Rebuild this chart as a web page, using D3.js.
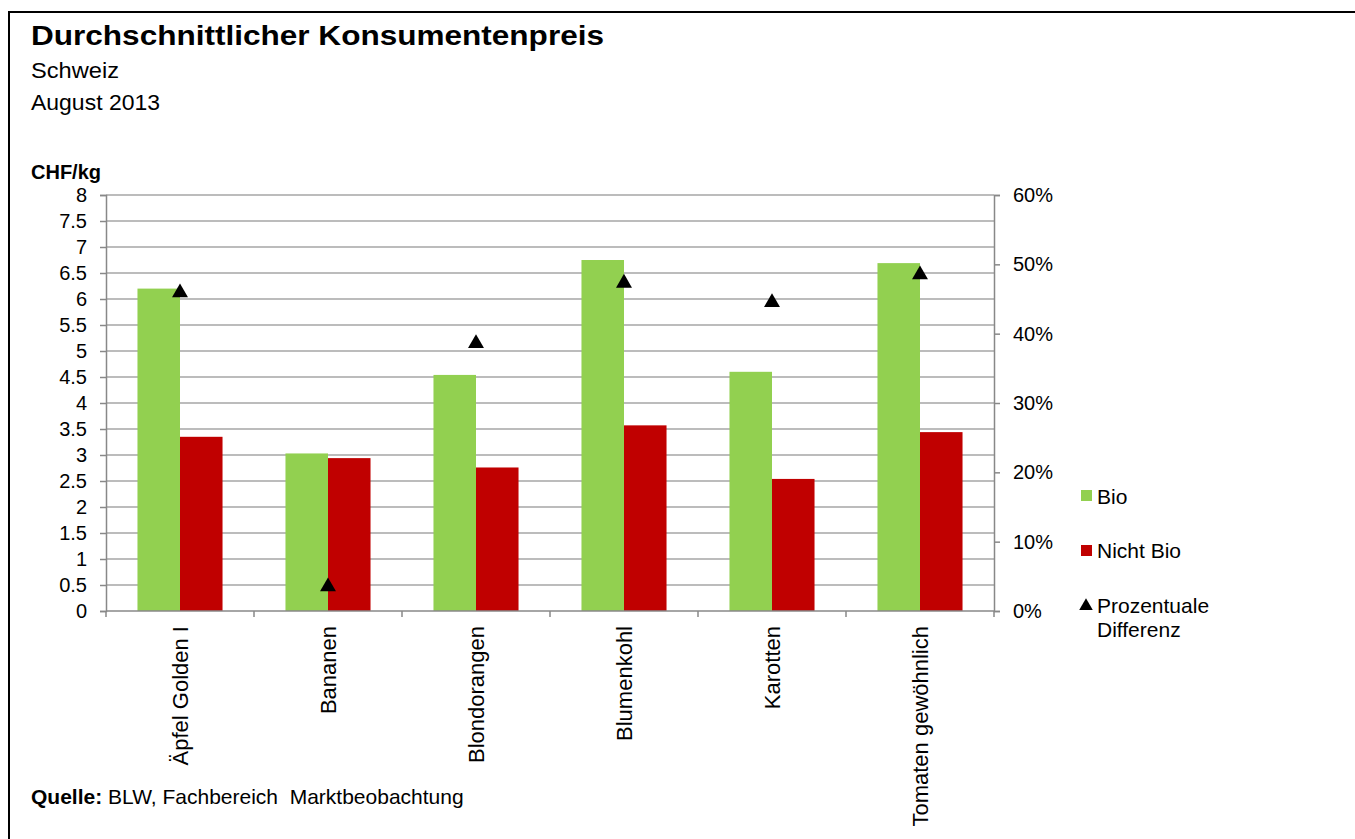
<!DOCTYPE html>
<html>
<head>
<meta charset="utf-8">
<script src="https://cdn.jsdelivr.net/npm/d3@7"></script>
<style>
  body { margin: 0; background: #fff; }
  svg { font-family: "Liberation Sans", Arial, sans-serif; }
</style>
</head>
<body>
<svg width="1355" height="839"></svg>
<script>
var categories = ["Äpfel Golden I", "Bananen", "Blondorangen", "Blumenkohl", "Karotten", "Tomaten gewöhnlich"];
var bio = [6.2, 3.03, 4.54, 6.75, 4.6, 6.69];
var nichtBio = [3.35, 2.94, 2.76, 3.57, 2.54, 3.44];
var differenz = [0.459, 0.035, 0.386, 0.473, 0.445, 0.485];
var leftTicks = [0, 0.5, 1, 1.5, 2, 2.5, 3, 3.5, 4, 4.5, 5, 5.5, 6, 6.5, 7, 7.5, 8];
var rightTicks = [0, 0.1, 0.2, 0.3, 0.4, 0.5, 0.6];

var svg = d3.select("svg");

// outer frame (runs off the right and bottom edge)
svg.append("rect")
    .attr("x", 9).attr("y", 12)
    .attr("width", 1380).attr("height", 860)
    .attr("fill", "none")
    .attr("stroke", "#000")
    .attr("stroke-width", 2);

svg.append("text").attr("x", 31).attr("y", 45)
    .style("font-size", "28px").style("font-weight", "bold")
    .attr("textLength", 573).attr("lengthAdjust", "spacingAndGlyphs")
    .text("Durchschnittlicher Konsumentenpreis");
svg.append("text").attr("x", 31).attr("y", 78)
    .style("font-size", "22px")
    .attr("textLength", 88).attr("lengthAdjust", "spacingAndGlyphs")
    .text("Schweiz");
svg.append("text").attr("x", 31).attr("y", 110)
    .style("font-size", "22px")
    .attr("textLength", 129).attr("lengthAdjust", "spacingAndGlyphs")
    .text("August 2013");
svg.append("text").attr("x", 31).attr("y", 179)
    .style("font-size", "20px").style("font-weight", "bold").text("CHF/kg");

var plotLeft = 106, plotRight = 994, plotTop = 195, plotBottom = 611;

var x = d3.scaleBand()
    .domain(categories)
    .range([plotLeft, plotRight]);

var xs = d3.scaleBand()
    .domain(["bio", "nicht"])
    .range([0, x.bandwidth()])
    .paddingOuter(0.74)
    .paddingInner(0);

var y = d3.scaleLinear().domain([0, 8]).range([plotBottom, plotTop]);
var y2 = d3.scaleLinear().domain([0, 0.6]).range([plotBottom, plotTop]);

// grid lines
svg.append("g")
    .selectAll("line")
    .data(leftTicks.slice(1))
    .enter()
    .append("line")
    .attr("x1", plotLeft).attr("x2", plotRight)
    .attr("y1", function(d) { return y(d); })
    .attr("y2", function(d) { return y(d); })
    .attr("stroke", "#a6a6a6")
    .attr("stroke-width", 1.5);

// left axis
var yAxis = svg.append("g")
    .attr("transform", "translate(" + plotLeft + ",0)")
    .call(d3.axisLeft(y).tickValues(leftTicks).tickSize(6).tickPadding(13)
        .tickFormat(function(d) { return String(d); }));
yAxis.select(".domain").attr("stroke", "#888").attr("stroke-width", 1.5);
yAxis.selectAll(".tick line").attr("stroke", "#888").attr("stroke-width", 1.5);
yAxis.selectAll("text").style("font-size", "20px").attr("fill", "#000")
    .attr("font-family", "Liberation Sans, Arial, sans-serif");

// right axis
var y2Axis = svg.append("g")
    .attr("transform", "translate(" + plotRight + ",0)")
    .call(d3.axisRight(y2).tickValues(rightTicks).tickSize(6).tickPadding(13)
        .tickFormat(d3.format(".0%")));
y2Axis.select(".domain").attr("stroke", "#888").attr("stroke-width", 1.5);
y2Axis.selectAll(".tick line").attr("stroke", "#888").attr("stroke-width", 1.5);
y2Axis.selectAll("text").style("font-size", "20px").attr("fill", "#000")
    .attr("font-family", "Liberation Sans, Arial, sans-serif");

// bars
var groups = svg.append("g")
    .selectAll("g")
    .data(categories)
    .enter()
    .append("g")
    .attr("transform", function(d) { return "translate(" + x(d) + ",0)"; });

groups.append("rect")
    .attr("x", xs("bio"))
    .attr("width", xs.bandwidth())
    .attr("y", function(d, i) { return y(bio[i]); })
    .attr("height", function(d, i) { return y(0) - y(bio[i]); })
    .attr("fill", "#92d050");

groups.append("rect")
    .attr("x", xs("nicht"))
    .attr("width", xs.bandwidth())
    .attr("y", function(d, i) { return y(nichtBio[i]); })
    .attr("height", function(d, i) { return y(0) - y(nichtBio[i]); })
    .attr("fill", "#c00000");

// bottom axis
var xAxis = svg.append("g")
    .attr("transform", "translate(0," + plotBottom + ")");
xAxis.append("line")
    .attr("x1", plotLeft).attr("x2", plotRight)
    .attr("stroke", "#888").attr("stroke-width", 1.5);
xAxis.selectAll(".tk")
    .data(categories.concat(["end"]))
    .enter()
    .append("line")
    .attr("class", "tk")
    .attr("x1", function(d, i) { return plotLeft + i * x.step(); })
    .attr("x2", function(d, i) { return plotLeft + i * x.step(); })
    .attr("y1", 0).attr("y2", 6)
    .attr("stroke", "#888").attr("stroke-width", 1.5);

svg.append("g")
    .selectAll("text")
    .data(categories)
    .enter()
    .append("text")
    .attr("transform", function(d) {
        return "translate(" + (x(d) + x.bandwidth() / 2 + 8) + "," + (plotBottom + 15) + ") rotate(-90)";
    })
    .style("text-anchor", "end")
    .style("font-size", "22px")
    .text(function(d) { return d; });

// triangles
var tri = d3.symbol().type(d3.symbolTriangle).size(110);
svg.append("g")
    .selectAll("path")
    .data(categories)
    .enter()
    .append("path")
    .attr("d", tri)
    .attr("transform", function(d, i) {
        return "translate(" + (x(d) + x.bandwidth() / 2) + "," + y2(differenz[i]) + ")";
    })
    .attr("fill", "#000");

// legend
var legend = svg.append("g").style("font-size", "21px");
legend.append("rect").attr("x", 1081).attr("y", 490).attr("width", 11).attr("height", 11).attr("fill", "#92d050");
legend.append("text").attr("x", 1097).attr("y", 504).text("Bio");
legend.append("rect").attr("x", 1081).attr("y", 545).attr("width", 11).attr("height", 11).attr("fill", "#c00000");
legend.append("text").attr("x", 1097).attr("y", 558).text("Nicht Bio");
legend.append("path").attr("d", d3.symbol().type(d3.symbolTriangle).size(80))
    .attr("transform", "translate(1086,606)").attr("fill", "#000");
legend.append("text").attr("x", 1097).attr("y", 613).text("Prozentuale");
legend.append("text").attr("x", 1097).attr("y", 637).text("Differenz");

// source
var src = svg.append("text").attr("x", 31).attr("y", 804).style("font-size", "21px").attr("xml:space", "preserve");
src.append("tspan").style("font-weight", "bold").text("Quelle:");
src.append("tspan").attr("x", 108).text("BLW, Fachbereich  Marktbeobachtung");
</script>
</body>
</html>
